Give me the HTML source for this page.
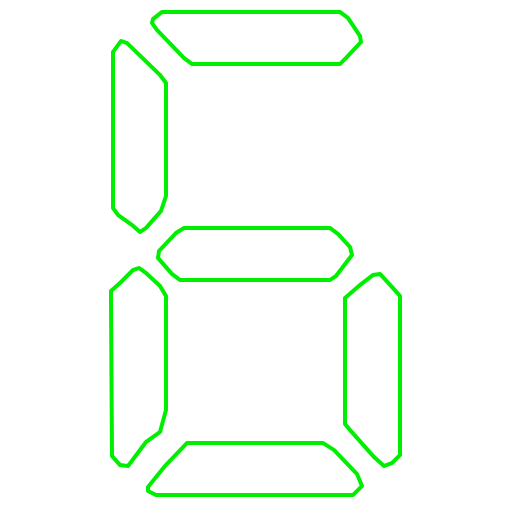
<!DOCTYPE html>
<html>
<head>
<meta charset="utf-8">
<style>
html,body{margin:0;padding:0;background:#fff;width:512px;height:512px;overflow:hidden}
svg{display:block}
</style>
</head>
<body>
<svg width="512" height="512" viewBox="0 0 512 512">
<g fill="none" stroke="#00ee00" stroke-width="4" stroke-linejoin="round" stroke-linecap="round">
<polygon points="153,19 162,12 340,12 348,18 360,36 361,42 346,58 340,64 192,64 184,58 157,30 152,23"/>
<polygon points="113,52 121,41 127,43 160,75 166,83 166,196 161,211 146,228 140,232 132,225 118,215 113,208"/>
<polygon points="159,251 176,233 184,228 330,228 338,234 350,247 352,255 336,276 330,280 180,280 172,274 158,258"/>
<polygon points="111,291 120,283 133,270 139,268 146,273 160,286 166,296 166,410 160,432 146,442 128,466 120,465 112,456 111,300"/>
<polygon points="345,298 360,285 373,275 380,274 392,287 400,296 400,455 392,463 384,466 374,457 350,430 345,424"/>
<polygon points="148,487 165,466 187,443 323,443 334,450 357,474 362,486 353,495 156,495 148,491"/>
</g>
</svg>
</body>
</html>
